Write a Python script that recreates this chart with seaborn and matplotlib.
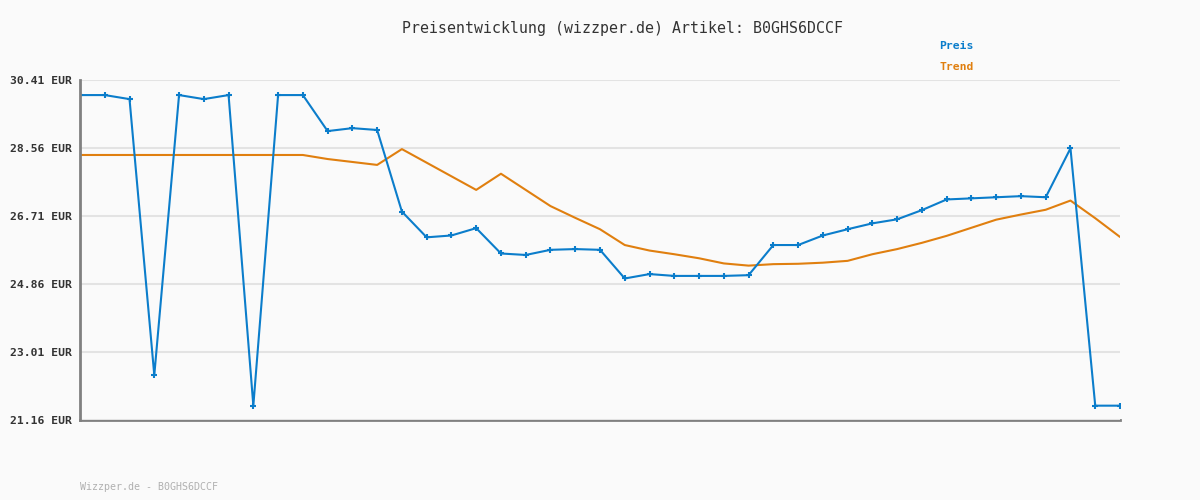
import matplotlib
matplotlib.use("Agg")
import matplotlib.pyplot as plt
import seaborn as sns
import pandas as pd
import numpy as np

title = "Preisentwicklung (wizzper.de) Artikel: B0GHS6DCCF"
footer = "Wizzper.de - B0GHS6DCCF"
y_ticks = [21.16, 23.01, 24.86, 26.71, 28.56, 30.41]
y_tick_labels = ["21.16 EUR", "23.01 EUR", "24.86 EUR", "26.71 EUR", "28.56 EUR", "30.41 EUR"]

preis = [30.00, 30.00, 29.89, 22.38, 30.00, 29.89, 30.00, 21.55, 30.00, 30.00,
         29.02, 29.10, 29.05, 26.83, 26.13, 26.18, 26.38, 25.69, 25.65, 25.79,
         25.81, 25.79, 25.01, 25.13, 25.08, 25.08, 25.08, 25.10, 25.92, 25.92,
         26.18, 26.35, 26.51, 26.62, 26.87, 27.16, 27.19, 27.22, 27.25, 27.22,
         28.55, 21.55, 21.55]
trend = [28.37, 28.37, 28.37, 28.37, 28.37, 28.37, 28.37, 28.37, 28.37, 28.37,
         28.26, 28.18, 28.10, 28.53, 28.16, 27.79, 27.42, 27.86, 27.42, 26.98,
         26.66, 26.35, 25.92, 25.77, 25.67, 25.56, 25.42, 25.36, 25.40, 25.41,
         25.44, 25.49, 25.67, 25.81, 25.98, 26.17, 26.39, 26.61, 26.75, 26.88,
         27.13, 26.65, 26.14]

blue = "#0b7dcb"
orange = "#e07f0f"
bg = "#fafafa"

sns.set_style("white")
plt.rcParams["font.family"] = ["DejaVu Sans Mono", "DejaVu Sans"]

df = pd.DataFrame({"idx": np.arange(len(preis)), "Preis": preis, "Trend": trend})

fig = plt.figure(figsize=(12, 5), dpi=100, facecolor=bg)
ax = fig.add_axes([80 / 1200, 1 - 420 / 500, 1040 / 1200, 340 / 500])
ax.set_facecolor(bg)

sns.lineplot(data=df, x="idx", y="Trend", ax=ax, color=orange, linewidth=1.5)
sns.lineplot(data=df, x="idx", y="Preis", ax=ax, color=blue, linewidth=1.5,
             marker="+", markersize=4, markeredgewidth=1.5, markeredgecolor=blue)

ax.set_xlim(0, len(preis) - 1)
ax.set_ylim(y_ticks[0], y_ticks[-1])
ax.set_yticks(y_ticks)
ax.set_yticklabels(y_tick_labels, fontsize=8.2, fontweight="bold", color="#333333")
ax.set_xticks([])
ax.set_xlabel("")
ax.set_ylabel("")
ax.tick_params(axis="y", length=0, pad=5.8)
ax.grid(axis="y", color="#e3e3e3", linewidth=1.5)
ax.set_axisbelow(True)
for s in ["top", "right"]:
    ax.spines[s].set_visible(False)
for s in ["left", "bottom"]:
    ax.spines[s].set_color("#808080")
    ax.spines[s].set_linewidth(2)
ax.spines["bottom"].set_zorder(0.5)

fig.text(623 / 1200, 1 - 28 / 500, title, ha="center", va="center", fontsize=10.7, color="#333333")
fig.text(939 / 1200, 1 - 46 / 500, "Preis", ha="left", va="center", fontsize=8.2, fontweight="bold", color=blue)
fig.text(939 / 1200, 1 - 67 / 500, "Trend", ha="left", va="center", fontsize=8.2, fontweight="bold", color=orange)
fig.text(80 / 1200, 1 - 487 / 500, footer, ha="left", va="center", fontsize=7.2, color="#b0b0b0")

fig.savefig("out.png", dpi=100, facecolor=bg)
